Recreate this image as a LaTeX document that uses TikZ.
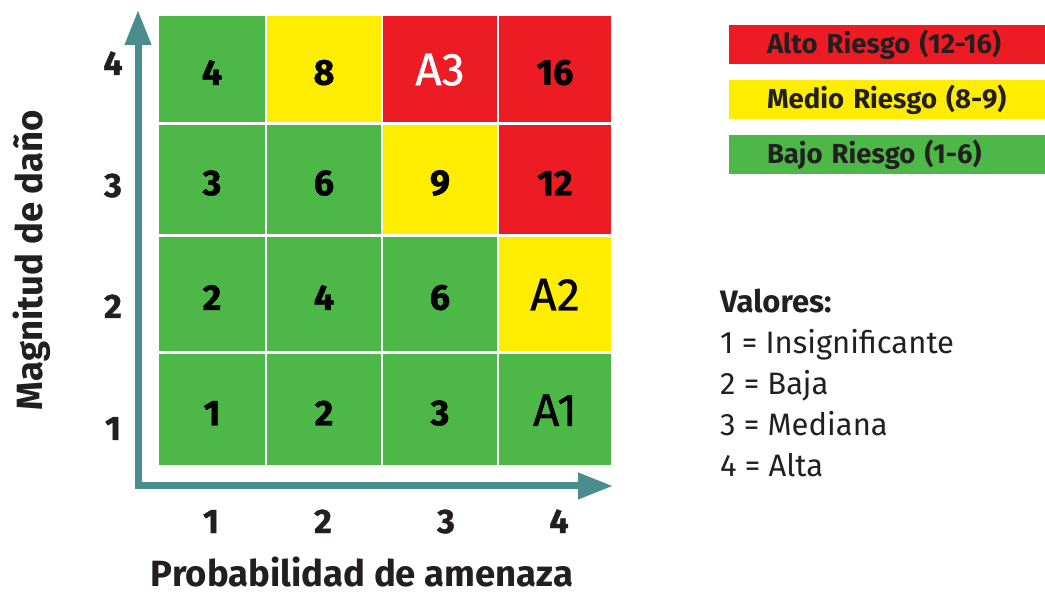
\documentclass[tikz,border=0pt]{standalone}
\usepackage{fontspec}
\setmainfont{Fira Sans}
\newfontfamily\gruesa[BoldFeatures={FakeBold=1.2}]{Fira Sans}
\newfontfamily\media[FakeBold=0.8]{Fira Sans}
\usetikzlibrary{arrows.meta}
\definecolor{verde}{RGB}{77,184,72}
\definecolor{amarillo}{RGB}{255,237,0}
\definecolor{rojo}{RGB}{237,28,36}
\definecolor{flecha}{RGB}{74,141,143}
\definecolor{tinta}{RGB}{35,31,32}
\tikzset{
  cell/.style 2 args={minimum width=#1, minimum height=#2, inner sep=0pt, text height=32pt,
    font=\fontsize{36}{36}\gruesa\bfseries},
  zona/.style={font=\fontsize{46}{46}\media, text height=33pt},
  eje/.style={anchor=base, font=\fontsize{34}{34}\gruesa\bfseries, text=tinta},
  titulo/.style={font=\fontsize{36.5}{36.5}\selectfont\bfseries, text=tinta},
  leyenda/.style={minimum height=39pt, text width=240pt, inner xsep=38pt, inner ysep=0pt,
    align=left, font=\fontsize{27.5}{27.5}\selectfont\bfseries, text=tinta}
}
\begin{document}
\begin{tikzpicture}[x=1pt,y=1pt]
\useasboundingbox (0,0) rectangle (1045,595);
% matriz de riesgo
\node[cell={106}{106}, fill=verde] (c14) at (212,526) {4};
\node[cell={114}{106}, fill=amarillo] (c24) at (324,526) {8};
\node[cell={114}{106}, fill=rojo, zona, text=white] (c34) at (440,526) {A3};
\node[cell={112}{106}, fill=rojo] (c44) at (555,526) {16};
\node[cell={106}{109}, fill=verde] (c13) at (212,415.5) {3};
\node[cell={114}{109}, fill=verde] (c23) at (324,415.5) {6};
\node[cell={114}{109}, fill=amarillo] (c33) at (440,415.5) {9};
\node[cell={112}{109}, fill=rojo] (c43) at (555,415.5) {12};
\node[cell={106}{114}, fill=verde] (c12) at (212,301) {2};
\node[cell={114}{114}, fill=verde] (c22) at (324,301) {4};
\node[cell={114}{114}, fill=verde] (c32) at (440,301) {6};
\node[cell={112}{114}, fill=amarillo, zona] (c42) at (555,301) {A2};
\node[cell={106}{111}, fill=verde] (c11) at (212,185.5) {1};
\node[cell={114}{111}, fill=verde] (c21) at (324,185.5) {2};
\node[cell={114}{111}, fill=verde] (c31) at (440,185.5) {3};
\node[cell={112}{111}, fill=verde, zona] (c41) at (555,185.5) {A1};
% ejes
\coordinate (origen) at (138,109);
\coordinate (ytip) at (138,585);
\coordinate (xtip) at (613,109);
\draw[flecha, line width=7pt, {Triangle[length=35pt,width=25pt]}-{Triangle[length=35pt,width=25pt]}]
  (ytip) -- (origen) -- (xtip);
\node[eje] (y4) at (113,520) {4};
\node[eje] (y3) at (113,398) {3};
\node[eje] (y2) at (113,277) {2};
\node[eje] (y1) at (113,155) {1};
\node[eje] (x1) at (211,62) {1};
\node[eje] (x2) at (323,62) {2};
\node[eje] (x3) at (446,62) {3};
\node[eje] (x4) at (559,62) {4};
\node[titulo, anchor=base, inner sep=0pt] (probabilidad) at (362,9) {Probabilidad de amenaza};
\node[titulo, rotate=90] (magnitud) at (32,335) {Magnitud de daño};
% leyenda
\node[leyenda, fill=rojo] (alto) at (887,550.5) {Alto Riesgo (12-16)};
\node[leyenda, fill=amarillo] (medio) at (887,495.5) {Medio Riesgo (8-9)};
\node[leyenda, fill=verde] (bajo) at (887,440) {Bajo Riesgo (1-6)};
\node[anchor=north west, align=left, inner sep=0pt, text=tinta,
  font=\fontsize{31}{41}\selectfont] (valores) at (720,306)
  {\textbf{Valores:}\\1 = Insignificante\\2 = Baja\\3 = Mediana\\4 = Alta};
\end{tikzpicture}
\end{document}
